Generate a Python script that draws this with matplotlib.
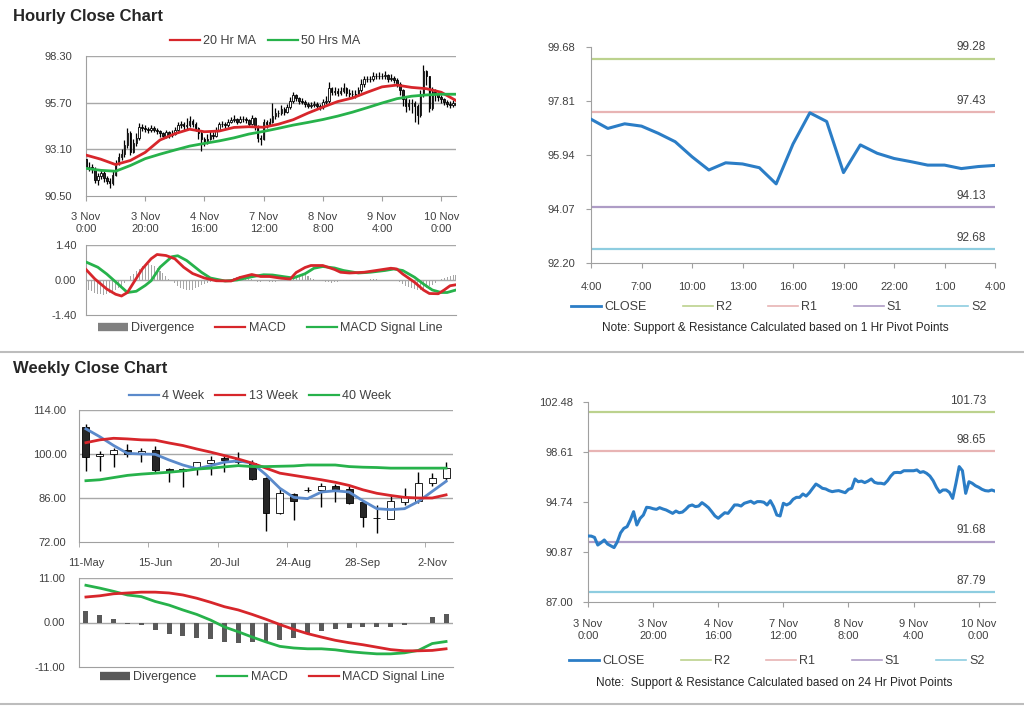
import matplotlib
matplotlib.use('Agg')
import matplotlib.pyplot as plt
from matplotlib.lines import Line2D
from matplotlib.ticker import FixedLocator, FixedFormatter

plt.rcParams['font.family'] = ['Liberation Sans', 'DejaVu Sans']

# ---------------- hourly data (126 bars, 3 Nov 0:00 .. 10 Nov) ----------------
hourly_close = [
    92.11, 92.10, 92.00, 91.41, 91.59, 91.80, 91.49, 91.35, 91.21, 91.65,
    92.35, 92.70, 92.83, 93.35, 93.99, 92.96, 93.47, 93.73, 94.33, 94.30,
    94.22, 94.17, 94.30, 94.20, 94.12, 93.99, 93.86, 94.04, 93.91, 93.96,
    94.17, 94.43, 94.51, 94.38, 94.43, 94.69, 94.51, 94.30, 93.99, 93.66,
    93.48, 93.70, 93.91, 93.86, 94.17, 94.51, 94.51, 94.43, 94.64, 94.72,
    94.80, 94.64, 94.77, 94.77, 94.72, 94.51, 94.84, 94.38, 93.73, 93.66,
    94.64, 94.51, 94.64, 94.95, 95.10, 95.10, 95.36, 95.20, 95.46, 95.80,
    96.13, 95.98, 95.80, 95.75, 95.62, 95.54, 95.59, 95.62, 95.54, 95.46,
    95.72, 95.80, 96.52, 96.31, 96.36, 96.24, 96.36, 96.52, 96.26, 96.19,
    96.19, 96.13, 96.39, 96.75, 97.01, 97.03, 97.01, 97.16, 97.16, 97.16,
    97.16, 97.22, 97.03, 97.09, 96.96, 96.75, 96.39, 95.88, 95.49, 95.67,
    95.67, 95.49, 95.02, 96.19, 97.48, 97.16, 95.41, 96.31, 96.19, 96.00,
    95.88, 95.72, 95.62, 95.59, 95.67, 95.58]
hourly_high = [
    92.85, 92.40, 92.30, 92.10, 91.80, 91.95, 91.90, 91.60, 91.50, 91.90,
    92.50, 92.90, 93.10, 93.60, 94.30, 94.10, 93.70, 94.00, 94.55, 94.50,
    94.45, 94.35, 94.45, 94.40, 94.30, 94.20, 94.05, 94.20, 94.10, 94.15,
    94.35, 94.60, 94.70, 94.60, 94.85, 94.95, 94.80, 94.60, 94.35, 94.10,
    93.80, 93.95, 94.10, 94.05, 94.35, 94.65, 94.70, 94.60, 94.80, 94.90,
    95.00, 94.85, 94.95, 94.95, 94.90, 94.80, 95.00, 94.90, 94.45, 93.90,
    94.80, 94.75, 94.85, 95.70, 95.40, 95.30, 95.55, 95.45, 95.65, 96.00,
    96.30, 96.20, 96.00, 95.95, 95.85, 95.75, 95.75, 95.80, 95.75, 95.65,
    95.90, 96.05, 96.85, 96.60, 96.55, 96.50, 96.60, 96.80, 96.60, 96.45,
    96.40, 96.40, 96.60, 97.00, 97.20, 97.20, 97.20, 97.40, 97.35, 97.40,
    97.35, 97.45, 97.30, 97.30, 97.20, 97.05, 96.85, 96.45, 96.00, 95.90,
    95.90, 95.80, 95.60, 96.40, 97.80, 97.50, 97.20, 96.60, 96.45, 96.25,
    96.10, 95.95, 95.85, 95.80, 95.85, 95.80]
hourly_low = [
    92.00, 91.90, 91.80, 91.20, 91.10, 91.45, 91.30, 91.15, 90.95, 91.10,
    91.60, 92.20, 92.50, 92.70, 93.20, 92.80, 92.90, 93.30, 93.60, 94.10,
    94.05, 94.00, 94.05, 94.05, 93.95, 93.80, 93.70, 93.75, 93.75, 93.80,
    93.90, 94.10, 94.30, 94.20, 94.25, 94.35, 94.35, 94.10, 93.70, 93.00,
    93.30, 93.40, 93.60, 93.70, 93.80, 94.10, 94.35, 94.30, 94.35, 94.55,
    94.60, 94.50, 94.55, 94.60, 94.55, 94.35, 94.45, 94.20, 93.50, 93.35,
    93.60, 94.30, 94.40, 94.55, 94.80, 94.90, 95.00, 95.00, 95.10, 95.35,
    95.70, 95.80, 95.65, 95.60, 95.45, 95.40, 95.40, 95.45, 95.40, 95.30,
    95.35, 95.60, 95.70, 96.10, 96.15, 96.05, 96.10, 96.25, 96.05, 96.00,
    96.00, 95.95, 96.05, 96.30, 96.60, 96.85, 96.85, 96.90, 97.00, 97.00,
    97.00, 97.00, 96.85, 96.90, 96.80, 96.55, 96.10, 95.50, 95.20, 95.30,
    95.10, 94.60, 94.50, 94.90, 96.00, 96.70, 95.20, 95.30, 95.80, 95.80,
    95.70, 95.55, 95.45, 95.40, 95.45, 95.45]
# each hourly bar opens at the previous bar's close
hourly_open = [92.55] + hourly_close[:-1]

ma_x = [0, 5, 10, 15, 20, 25, 30, 35, 40, 45, 50, 55, 60, 65, 70, 75, 80, 85,
        90, 95, 100, 105, 110, 115, 120, 125]
ma20 = [92.78, 92.55, 92.25, 92.48, 92.93, 93.62, 93.97, 94.22, 94.08, 94.12,
        94.32, 94.36, 94.33, 94.50, 94.75, 95.12, 95.45, 95.76, 95.96, 96.28,
        96.58, 96.68, 96.55, 96.48, 96.28, 95.82]
ma50 = [92.04, 91.93, 91.88, 92.20, 92.58, 92.83, 93.06, 93.28, 93.43, 93.57,
        93.74, 93.95, 94.10, 94.27, 94.45, 94.60, 94.76, 94.95, 95.17, 95.42,
        95.68, 95.92, 96.06, 96.13, 96.17, 96.17]

macd_x = [0, 3, 5, 7, 10, 12, 14, 16, 19, 22, 24, 27, 30, 33, 36, 40, 44, 49, 52,
          56, 59, 62, 66, 69, 71, 74, 76, 80, 84, 86, 89, 94, 98, 103, 105, 107,
          111, 114, 116, 119, 121, 123, 125]
macd_h = [0.42, 0.04, -0.16, -0.36, -0.57, -0.64, -0.50, -0.12, 0.44, 0.85, 1.02,
          0.98, 0.85, 0.51, 0.26, 0.08, -0.03, -0.04, 0.10, 0.22, 0.14, 0.14, 0.07,
          0.04, 0.30, 0.50, 0.58, 0.58, 0.42, 0.31, 0.28, 0.31, 0.38, 0.47, 0.44,
          0.24, -0.09, -0.40, -0.54, -0.55, -0.40, -0.23, -0.19]
signal_x = [0, 4, 7, 11, 14, 17, 20, 22, 25, 29, 31, 34, 39, 42, 47, 51, 56, 60, 63,
            67, 70, 74, 77, 80, 84, 87, 92, 96, 101, 104, 107, 111, 114, 117, 120,
            122, 125]
signal_h = [0.72, 0.51, 0.24, -0.18, -0.50, -0.45, -0.22, -0.03, 0.51, 0.93, 0.97,
            0.78, 0.31, 0.08, -0.04, 0.00, 0.13, 0.21, 0.20, 0.13, 0.08, 0.25, 0.47,
            0.54, 0.48, 0.38, 0.28, 0.31, 0.38, 0.44, 0.38, 0.11, -0.16, -0.40,
            -0.50, -0.50, -0.40]
diverg_h = [
    -0.30, -0.38, -0.45, -0.50, -0.55, -0.57, -0.58, -0.56, -0.52, -0.45,
    -0.38, -0.30, -0.22, -0.12, 0.02, 0.15, 0.25, 0.35, 0.45, 0.55,
    0.62, 0.65, 0.62, 0.58, 0.48, 0.38, 0.28, 0.15, 0.05, -0.05,
    -0.13, -0.22, -0.30, -0.36, -0.40, -0.41, -0.38, -0.33, -0.26, -0.20,
    -0.14, -0.10, -0.07, -0.05, -0.04, -0.03, -0.02, -0.02, 0.00, 0.03,
    0.08, 0.12, 0.15, 0.14, 0.10, 0.06, 0.03, -0.03, -0.06, -0.06,
    -0.05, -0.05, -0.06, -0.07, -0.06, -0.05, -0.05, -0.04, -0.02, 0.03,
    0.10, 0.16, 0.20, 0.22, 0.20, 0.15, 0.10, 0.05, 0.02, -0.03,
    -0.05, -0.07, -0.09, -0.10, -0.08, -0.06, -0.05, -0.04, -0.04, -0.03,
    -0.03, -0.02, -0.02, -0.01, 0.00, 0.02, 0.03, 0.03, 0.03, 0.02,
    0.02, 0.02, 0.02, 0.01, 0.00, -0.03, -0.08, -0.15, -0.22, -0.28,
    -0.33, -0.37, -0.40, -0.40, -0.38, -0.32, -0.25, -0.18, -0.10, -0.04,
    0.03, 0.08, 0.13, 0.17, 0.20, 0.22]
hourly_ticks = ['3 Nov\n0:00', '3 Nov\n20:00', '4 Nov\n16:00', '7 Nov\n12:00',
                '8 Nov\n8:00', '9 Nov\n4:00', '10 Nov\n0:00']

# last 25 hours with 1 hr pivots
pivot1_close = [97.18, 96.86, 97.02, 96.94, 96.69, 96.40, 95.88, 95.42, 95.67, 95.63,
                95.50, 94.94, 96.32, 97.40, 97.10, 95.33, 96.29, 96.00, 95.82, 95.71,
                95.59, 95.59, 95.47, 95.54, 95.58]
pivot1_ticks = ['4:00', '7:00', '10:00', '13:00', '16:00', '19:00', '22:00', '1:00', '4:00']
pivot1_levels = {'R2': 99.28, 'R1': 97.43, 'S1': 94.13, 'S2': 92.68}
pivot24_levels = {'R2': 101.73, 'R1': 98.65, 'S1': 91.68, 'S2': 87.79}

# ---------------- weekly data (27 weeks, 11-May .. 9-Nov) ----------------
wk_open = [108.5, 99.3, 99.9, 101.2, 100.0, 101.2, 95.2, 95.1, 95.5, 97.2, 98.7, 97.4,
           97.1, 92.3, 81.2, 87.2, 88.5, 88.6, 89.9, 88.8, 84.6, 79.7, 79.4, 84.7,
           84.9, 90.9, 92.3]
wk_close = [99.2, 100.1, 101.2, 99.9, 101.1, 95.0, 94.6, 94.5, 97.4, 98.2, 98.1, 98.4,
            92.1, 81.2, 87.5, 85.1, 88.7, 89.9, 88.6, 84.4, 79.8, 79.5, 84.9, 86.2,
            90.9, 92.3, 95.5]
wk_high = [109.5, 100.8, 101.8, 103.3, 101.8, 102.4, 95.5, 95.5, 97.6, 99.4, 99.7, 100.6,
           98.1, 92.8, 89.1, 87.5, 89.5, 90.7, 90.4, 89.9, 84.9, 83.8, 86.5, 89.3,
           94.4, 94.1, 97.6]
wk_low = [94.7, 94.7, 95.8, 99.2, 97.6, 93.9, 91.0, 89.5, 93.4, 93.4, 94.4, 96.8,
          91.8, 75.4, 81.0, 79.1, 87.9, 83.0, 84.7, 84.2, 76.8, 74.9, 79.2, 83.8,
          84.4, 89.7, 91.3]
wk_ma4 = [108.0, 105.5, 102.7, 100.2, 100.0, 99.9, 98.1, 96.5, 95.3, 96.3, 97.4, 97.8,
          97.1, 93.4, 89.1, 86.2, 85.8, 87.9, 88.3, 87.9, 85.1, 82.6, 82.3, 82.6,
          84.9, 88.1, 91.3]
wk_ma13 = [103.6, 104.5, 105.0, 104.8, 104.5, 104.4, 103.5, 102.7, 101.6, 100.6, 99.5,
           98.4, 97.1, 95.5, 93.9, 93.2, 92.5, 91.8, 91.0, 90.0, 88.6, 87.5, 86.8,
           86.2, 86.0, 86.0, 87.0]
wk_ma40 = [91.5, 91.8, 92.5, 93.2, 93.6, 93.9, 94.2, 94.6, 95.2, 95.5, 95.9, 96.3, 96.0,
           96.0, 96.1, 96.2, 96.5, 96.5, 96.5, 96.0, 95.8, 95.7, 95.5, 95.5, 95.5,
           95.5, 95.5]
wk_macd = [9.2, 8.5, 7.7, 6.8, 6.4, 5.2, 4.3, 3.1, 2.0, 0.6, -1.1, -2.3, -3.6, -4.8,
           -5.9, -6.3, -6.5, -6.5, -6.75, -7.2, -7.5, -7.75, -7.75, -7.5, -6.9, -5.2,
           -4.7]
wk_signal = [6.3, 6.6, 7.1, 7.3, 7.5, 7.5, 7.3, 6.8, 6.0, 5.0, 3.9, 3.1, 2.0, 0.8,
             -0.5, -1.7, -2.75, -3.6, -4.4, -5.0, -5.5, -6.1, -6.7, -7.0, -7.0, -6.9,
             -6.5]
wk_diverg = [2.9, 1.8, 0.75, -0.4, -0.7, -1.9, -2.75, -3.3, -3.8, -4.2, -4.7, -5.0,
             -4.7, -4.7, -4.4, -3.8, -2.75, -2.2, -1.5, -1.3, -1.2, -1.1, -1.1, -0.7,
             -0.1, 1.4, 2.0]
wk_ticks = ['11-May', '15-Jun', '20-Jul', '24-Aug', '28-Sep', '2-Nov']

RED = '#D7262B'
GREEN = '#27B24B'
BLUE = '#2B7DC6'
LBLUE = '#5B8ACB'
GRID = '#A8A8A8'
TXT = '#404040'
PIV_COL = {'R2': '#BCD28E', 'R1': '#E8B4B4', 'S1': '#AE9CC6', 'S2': '#8ECDE0'}

W, H = 1024, 706
fig = plt.figure(figsize=(W / 100, H / 100), dpi=100)


def add_ax(l, t, r, b):
    return fig.add_axes([l / W, 1 - b / H, (r - l) / W, (b - t) / H])


def style(ax, yticks, ypad, grid=(), ytick_len=0):
    for s in ['top', 'right']:
        ax.spines[s].set_visible(False)
    for s in ['left', 'bottom']:
        ax.spines[s].set_color('#A0A0A0')
    for g in grid:
        ax.axhline(g, color=GRID, lw=1, zorder=0)
    ax.yaxis.set_major_locator(FixedLocator(yticks))
    ax.yaxis.set_major_formatter(FixedFormatter(['%.2f' % v for v in yticks]))
    ax.set_ylim(yticks[0], yticks[-1])
    ax.tick_params(axis='y', length=ytick_len, pad=ypad, labelsize=8,
                   labelcolor=TXT, color='#A0A0A0')
    ax.tick_params(axis='x', labelsize=8, labelcolor=TXT, color='#A0A0A0',
                   direction='out', length=3.5)


def legend(ax, handles, labels, cx, cy, colsp, fs=9):
    ax.legend(handles, labels, loc='center', bbox_to_anchor=(cx / W, 1 - cy / H),
              bbox_transform=fig.transFigure, ncol=len(handles), frameon=False,
              fontsize=fs, handlelength=2.4, handletextpad=0.25,
              columnspacing=colsp, borderpad=0, borderaxespad=0, labelcolor=TXT)


def candles(ax, x, o, c, hi, lo, width, lw):
    ax.vlines(x, lo, hi, color='black', lw=lw, zorder=2)
    body_lo = [min(a, b) for a, b in zip(o, c)]
    body_h = [max(abs(a - b), 0.02) for a, b in zip(o, c)]
    cols = ['white' if b >= a else '#262626' for a, b in zip(o, c)]
    ax.bar(x, body_h, bottom=body_lo, width=width, color=cols, edgecolor='black',
           lw=0.6, zorder=3)


def pivot_chart(ax, x, close, levels):
    ax.plot(x, close, color=BLUE, lw=2.2, zorder=4, solid_joinstyle='round')
    for k, v in levels.items():
        ax.axhline(v, color=PIV_COL[k], lw=1.6, zorder=2)
        ax.annotate('%.2f' % v, xy=(1, v), xycoords=('axes fraction', 'data'),
                    xytext=(-6.5, 8), textcoords='offset points', ha='right',
                    va='center', fontsize=8.5, color=TXT)
    hs = [Line2D([], [], color=BLUE, lw=2)] + \
         [Line2D([], [], color=PIV_COL[k], lw=1.2) for k in levels]
    return hs, ['CLOSE'] + list(levels.keys())


xh = list(range(len(hourly_close)))

# ---- hourly candles ----
ax1 = add_ax(86, 56, 456, 196)
style(ax1, [90.50, 93.10, 95.70, 98.30], 10, grid=[93.10, 95.70, 98.30])
candles(ax1, xh, hourly_open, hourly_close, hourly_high, hourly_low, 0.55, 0.9)
ax1.plot(ma_x, ma20, color=RED, lw=2, zorder=5)
ax1.plot(ma_x, ma50, color=GREEN, lw=2, zorder=5)
ax1.set_xlim(0, 125)
ax1.set_xticks(range(0, 121, 20))
ax1.set_xticklabels(hourly_ticks, linespacing=1.3)
ax1.tick_params(axis='x', pad=8)
legend(ax1, [Line2D([], [], color=RED, lw=1.6), Line2D([], [], color=GREEN, lw=1.6)],
       ['20 Hr MA', '50 Hrs MA'], 265, 41, 1.0)

# ---- hourly MACD ----
ax2 = add_ax(86, 245, 456, 315)
style(ax2, [-1.40, 0.00, 1.40], 7, grid=[0.0, 1.40])
ax2.bar(xh, diverg_h, width=0.35, color='#A6A6A6', zorder=1)
ax2.plot(macd_x, macd_h, color=RED, lw=2, zorder=4)
ax2.plot(signal_x, signal_h, color=GREEN, lw=2, zorder=3)
ax2.set_xlim(0, 125)
ax2.set_xticks([])
legend(ax2, [Line2D([], [], color='#808080', lw=6, solid_capstyle='butt'),
             Line2D([], [], color=RED, lw=1.6), Line2D([], [], color=GREEN, lw=1.6)],
       ['Divergence', 'MACD', 'MACD Signal Line'], 270, 328, 1.7)

# ---- 1 hr pivot chart ----
ax3 = add_ax(591, 47, 995, 263)
style(ax3, [92.20, 94.07, 95.94, 97.81, 99.68], 8, ytick_len=3.5)
xp = list(range(len(pivot1_close)))
hs, lb = pivot_chart(ax3, xp, pivot1_close, pivot1_levels)
ax3.set_xlim(0, 24)
ax3.set_xticks(range(0, 25, 3))
ax3.set_xticklabels(pivot1_ticks)
ax3.tick_params(axis='x', pad=10)
legend(ax3, hs, lb, 779, 307, 2.9)
fig.text(775 / W, 1 - 328 / H,
         'Note: Support & Resistance Calculated based on 1 Hr Pivot Points',
         ha='center', va='center', fontsize=8.5, color='#262626')

# ---- weekly candles ----
xw = [i + 0.5 for i in range(len(wk_close))]
ax4 = add_ax(79, 410, 453, 542)
style(ax4, [72.00, 86.00, 100.00, 114.00], 9, grid=[86.0, 100.0, 114.0])
candles(ax4, xw, wk_open, wk_close, wk_high, wk_low, 0.5, 1.0)
ax4.plot(xw, wk_ma4, color=LBLUE, lw=2, zorder=5)
ax4.plot(xw, wk_ma13, color=RED, lw=2, zorder=5)
ax4.plot(xw, wk_ma40, color=GREEN, lw=2, zorder=5)
ax4.set_xlim(0, 27)
ax4.set_xticks([0, 5, 10, 15, 20, 25], minor=True)
ax4.set_xticks([0.5, 5.5, 10.5, 15.5, 20.5, 25.5])
ax4.set_xticklabels(wk_ticks)
ax4.tick_params(axis='x', which='major', length=0, pad=11.5)
ax4.tick_params(axis='x', which='minor', length=3.5, color='#A0A0A0')
legend(ax4, [Line2D([], [], color=LBLUE, lw=1.6), Line2D([], [], color=RED, lw=1.6),
             Line2D([], [], color=GREEN, lw=1.6)],
       ['4 Week', '13 Week', '40 Week'], 260, 396, 0.9)

# ---- weekly MACD ----
ax5 = add_ax(79, 578, 453, 667)
style(ax5, [-11.00, 0.00, 11.00], 10, grid=[0.0, 11.0])
ax5.bar(xw, wk_diverg, width=0.36, color='#595959', zorder=1)
ax5.plot(xw, wk_macd, color=GREEN, lw=2, zorder=3)
ax5.plot(xw, wk_signal, color=RED, lw=2, zorder=4)
ax5.set_xlim(0, 27)
ax5.set_xticks([])
legend(ax5, [Line2D([], [], color='#595959', lw=6, solid_capstyle='butt'),
             Line2D([], [], color=GREEN, lw=1.6), Line2D([], [], color=RED, lw=1.6)],
       ['Divergence', 'MACD', 'MACD Signal Line'], 272, 677, 1.7)

# ---- 24 hr pivot chart ----
ax6 = add_ax(588, 402, 995, 602)
style(ax6, [87.00, 90.87, 94.74, 98.61, 102.48], 7, ytick_len=3.5)
hs, lb = pivot_chart(ax6, xh, hourly_close, pivot24_levels)
ax6.set_xlim(0, 125)
ax6.set_xticks(range(0, 121, 20))
ax6.set_xticklabels(hourly_ticks, linespacing=1.35)
ax6.tick_params(axis='x', pad=8.5)
legend(ax6, hs, lb, 777, 661, 2.9)
fig.text(774 / W, 1 - 683 / H,
         'Note:  Support & Resistance Calculated based on 24 Hr Pivot Points',
         ha='center', va='center', fontsize=8.5, color='#262626')

# ---- titles and separators ----
fig.text(13 / W, 1 - 16 / H, 'Hourly Close Chart', fontsize=12, fontweight='bold',
         va='center', color='#262626')
fig.text(13 / W, 1 - 369 / H, 'Weekly Close Chart', fontsize=12, fontweight='bold',
         va='center', color='#262626')
for yy in (352, 704):
    fig.add_artist(Line2D([0, 1], [1 - yy / H] * 2, transform=fig.transFigure,
                          color='#BDBDBD', lw=1.5))

fig.savefig('out.png', dpi=100)
